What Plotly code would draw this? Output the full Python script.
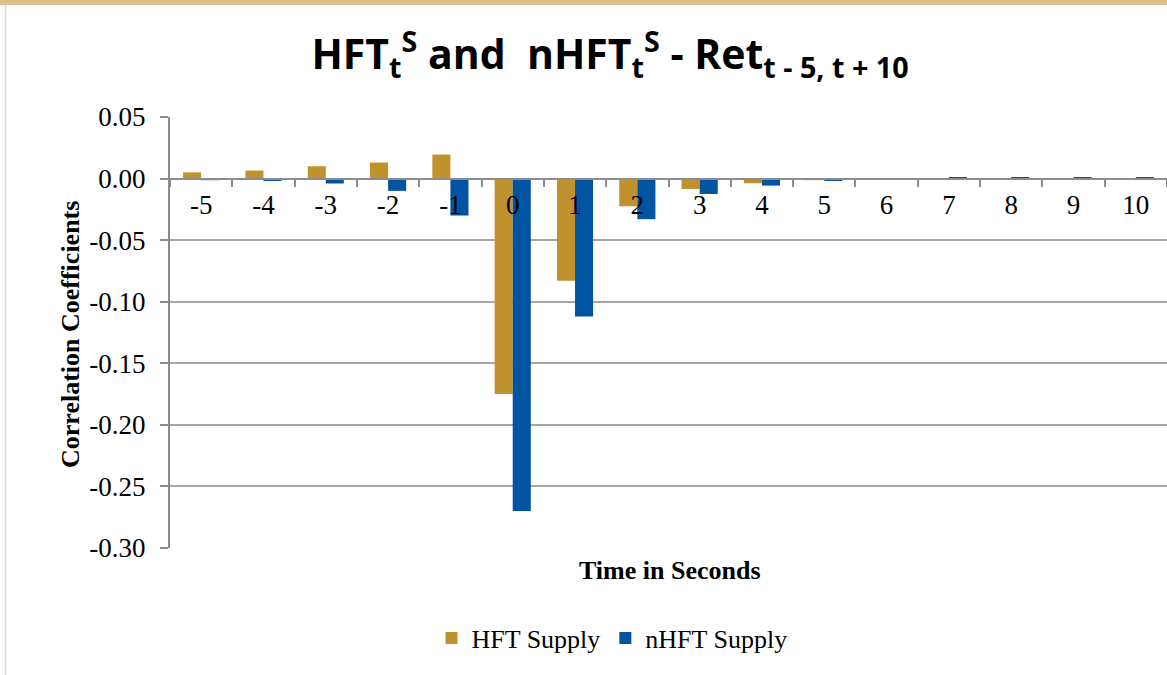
import plotly.graph_objects as go

categories = ["-5", "-4", "-3", "-2", "-1", "0", "1", "2", "3", "4", "5", "6", "7", "8", "9", "10"]
hft_supply = [0.005, 0.0065, 0.010, 0.013, 0.0195, -0.175, -0.083, -0.0225, -0.0085,
              -0.0038, -0.0013, -0.0005, -0.0005, -0.0003, 0.0003, -0.0002]
nhft_supply = [-0.0013, -0.002, -0.004, -0.010, -0.030, -0.270, -0.112, -0.033, -0.0125,
               -0.0057, -0.002, -0.0005, 0.0005, 0.0005, 0.0005, 0.0005]
y_ticks = [0.05, 0.00, -0.05, -0.10, -0.15, -0.20, -0.25, -0.30]
y_tick_labels = ["0.05", "0.00", "-0.05", "-0.10", "-0.15", "-0.20", "-0.25", "-0.30"]
y_range = [-0.30, 0.05]

GOLD = "#C0922D"
BLUE = "#0054A2"
SERIF = "Liberation Serif, Times New Roman, serif"

fig = go.Figure()
fig.add_trace(go.Bar(x=categories, y=hft_supply, name="HFT Supply", marker_color=GOLD,
                     marker_line_width=0))
fig.add_trace(go.Bar(x=categories, y=nhft_supply, name="nHFT Supply", marker_color=BLUE,
                     marker_line_width=0))

L, R, T, B = 170, 0, 117, 127
W, H = 1167, 675
pw, ph = W - L - R, H - T - B

def px_x(x):
    return (x - L) / pw

def px_y(y):
    return (H - B - y) / ph

zero_pos = (0 - y_range[0]) / (y_range[1] - y_range[0])

fig.update_layout(
    width=W, height=H,
    margin=dict(l=L, r=R, t=T, b=B),
    paper_bgcolor="white", plot_bgcolor="white",
    barmode="group", bargap=0.42, bargroupgap=0,
    title=dict(
        text="HFT<sub>t</sub><sup>S</sup> and  nHFT<sub>t</sub><sup>S</sup> - Ret<sub>t - 5, t + 10</sub>",
        x=610 / W, xanchor="center", y=1 - 55 / H, yanchor="middle",
        font=dict(family="Open Sans", size=41, color="black", weight="bold"),
    ),
    xaxis=dict(
        type="category",
        anchor="free", position=zero_pos,
        showline=True, linecolor="#8c8c8c", linewidth=2,
        ticks="outside", tickson="boundaries", ticklen=7, tickwidth=2, tickcolor="#8c8c8c",
        tickfont=dict(family=SERIF, size=27, color="black"),
        ticklabelstandoff=2,
        showgrid=False, zeroline=False,
    ),
    yaxis=dict(
        range=y_range, tickvals=y_ticks, ticktext=y_tick_labels,
        showline=True, linecolor="#8c8c8c", linewidth=2,
        ticks="outside", ticklen=8, tickwidth=2, tickcolor="#8c8c8c",
        tickfont=dict(family=SERIF, size=27, color="black"),
        ticklabelstandoff=9,
        showgrid=True, gridcolor="#a6a6a6", gridwidth=2,
        zeroline=False,
    ),
    legend=dict(
        orientation="h", x=px_x(612), xanchor="center", y=px_y(638), yanchor="middle",
        font=dict(family=SERIF, size=26, color="black"),
        itemwidth=30, traceorder="normal",
    ),
    annotations=[
        dict(text="<b>Correlation Coefficients</b>", textangle=-90, xref="paper", yref="paper",
             x=px_x(70), y=px_y(335), xanchor="center", yanchor="middle", showarrow=False,
             font=dict(family=SERIF, size=26, color="black")),
        dict(text="<b>Time in Seconds</b>", xref="paper", yref="paper",
             x=px_x(670), y=px_y(570), xanchor="center", yanchor="middle", showarrow=False,
             font=dict(family=SERIF, size=26, color="black")),
    ],
    shapes=[
        dict(type="rect", xref="paper", yref="paper", x0=px_x(0), x1=px_x(W), y0=px_y(5), y1=px_y(0),
             fillcolor="#DCC08A", line_width=0, layer="above"),
        dict(type="line", xref="paper", yref="paper", x0=px_x(5.5), x1=px_x(5.5), y0=px_y(H), y1=px_y(5),
             line=dict(color="#d9d9d9", width=1.5)),
    ],
)

fig.write_html("out.html", config={"displayModeBar": False},
               post_script="document.body.style.margin='0';document.body.style.overflow='hidden';")
